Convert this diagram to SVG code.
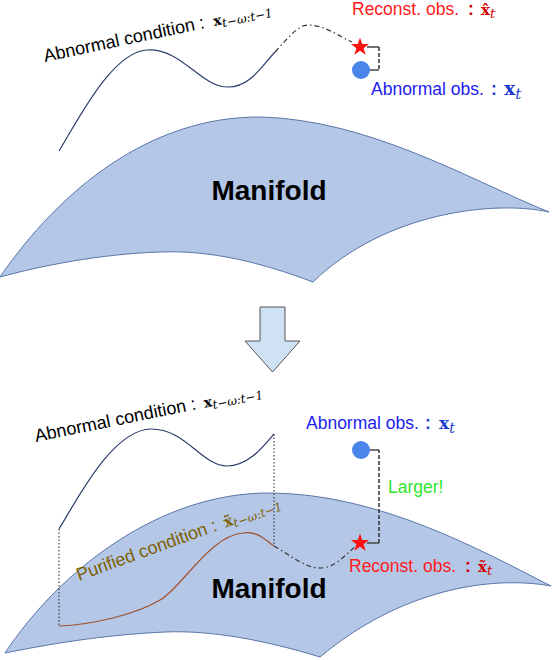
<svg xmlns="http://www.w3.org/2000/svg" width="552" height="660" viewBox="0 0 552 660">
<style>
.lbl{font-family:"Liberation Sans",Arial,sans-serif;font-size:17.5px}
.rot{font-family:"Liberation Sans",Arial,sans-serif;font-size:18px}
.mx{font-family:"DejaVu Serif",serif;font-weight:bold}
.mi{font-family:"DejaVu Serif",serif;font-style:italic}
.man{fill:#b4c7e7;stroke:#5a76aa;stroke-width:1}
.mtxt{font-family:"Liberation Sans",Arial,sans-serif;font-size:28px;font-weight:bold;fill:#000}
.cond{fill:none;stroke:#2b3d6b;stroke-width:1.2}
.dashdot{fill:none;stroke:#333;stroke-width:1.2;stroke-dasharray:5 3 1.5 3}
.dot{fill:none;stroke:#222;stroke-width:1;stroke-dasharray:1.5 2}
.conn{fill:none;stroke:#444;stroke-width:1.5}
.connd{fill:none;stroke:#333;stroke-width:1.5;stroke-dasharray:4 2}
.star{fill:#ff1010}
.obs{fill:#4a86e8}
.red{fill:#ff1a1a}
.redm{fill:#d00000}
.blue{fill:#2020f0}
.bluem{fill:#1a3ccc}
</style>
<defs>
<polygon id="star" points="0,-9.5 2.2,-3 9,-2.9 3.6,1.2 5.6,7.7 0,3.8 -5.6,7.7 -3.6,1.2 -9,-2.9 -2.2,-3"/>
</defs>

<g id="manifold-top">
<path class="man" d="M0,277 C60,190 150,116 261,117 C370,120 470,180 549,212 C495,200 385,212 313,282 C260,262 210,250 160,252 C100,254 40,266 0,277 Z"/>
<text class="mtxt" x="269" y="200" text-anchor="middle">Manifold</text>
</g>

<g id="manifold-bottom">
<path class="man" d="M5,653 C60,570 160,492 271,493 C380,494 480,550 551,586 C490,575 400,590 320,657 C265,640 210,630 165,632 C100,635 45,645 5,653 Z"/>
<text class="mtxt" x="269" y="598" text-anchor="middle">Manifold</text>
</g>

<g id="connectors">
<path class="cond" d="M59,151 C78,120 112,52 147,50 C182,48 200,87 228,87 C250,87 262,66 275,52"/>
<path class="dashdot" d="M275,52 C290,36 298,25 308,25 C325,25 340,37 352,42"/>
<path class="conn" d="M367,47 H379"/>
<path class="connd" d="M379,47 V70"/>
<path class="conn" d="M379,70 H369"/>

<path class="cond" d="M59,529 C78,498 112,431 150,429 C185,428 202,466 227,466 C248,466 262,448 274,434"/>
<path class="dot" d="M59,529 V626"/>
<path class="dot" d="M274,434 V546"/>
<path fill="none" stroke="#a0522d" stroke-width="1.2" d="M59,626 C90,625 135,615 160,600 C180,590 210,535 243,533 C258,531 265,540 274,546"/>
<path class="dashdot" d="M274,546 C290,555 305,568 320,568 C335,568 345,555 356,546"/>
<path class="conn" d="M367,543 H379"/>
<path class="connd" d="M379,543 V450"/>
<path class="conn" d="M379,450 H369"/>
</g>

<g id="arrow">
<polygon points="260,307 285,307 285,341 300,341 272.5,372 245,341 260,341" fill="#cfe2f3" stroke="#555" stroke-width="1"/>
</g>

<g id="top-condition-label">
<text class="rot" transform="translate(45,62) rotate(-12)" fill="#000">Abnormal condition : <tspan class="mx" font-size="14" dx="4">x</tspan><tspan class="mi" font-size="12" dy="3">t−ω:t−1</tspan></text>
</g>

<g id="top-reconst">
<use href="#star" x="360" y="47" class="star"/>
<text class="lbl red" x="352" y="15">Reconst. obs.</text>
<text class="lbl redm" x="468" y="15" font-weight="bold">:</text>
<text class="mx redm" x="481" y="15" font-size="15">x̂<tspan class="mi" font-size="13" dy="3" font-weight="normal">t</tspan></text>
</g>

<g id="top-abnormal">
<circle class="obs" cx="361" cy="70" r="9"/>
<text class="lbl blue" x="371" y="95">Abnormal obs.</text>
<text class="lbl bluem" x="491" y="95" font-weight="bold">:</text>
<text class="mx bluem" x="504" y="95" font-size="19">x<tspan class="mi" font-size="15" dy="4" font-weight="normal">t</tspan></text>
</g>

<g id="bottom-condition-label">
<text class="rot" transform="translate(36,442) rotate(-11.5)" fill="#000">Abnormal condition : <tspan class="mx" font-size="14" dx="3">x</tspan><tspan class="mi" font-size="12" dy="3">t−ω:t−1</tspan></text>
</g>

<g id="purified-label">
<text class="rot" transform="translate(79,581) rotate(-20)" fill="#7f6000">Purified condition : <tspan class="mx" font-size="15" dx="3">x̃</tspan><tspan class="mi" font-size="12" dy="3">t−ω:t−1</tspan></text>
</g>

<g id="bottom-abnormal">
<circle class="obs" cx="361" cy="450" r="9"/>
<text class="lbl blue" x="306" y="429">Abnormal obs.</text>
<text class="lbl bluem" x="425" y="429" font-weight="bold">:</text>
<text class="mx bluem" x="439" y="429" font-size="17">x<tspan class="mi" font-size="14" dy="4" font-weight="normal">t</tspan></text>
</g>

<g id="larger">
<text class="lbl" x="388" y="493" fill="#2ee62e">Larger!</text>
</g>

<g id="bottom-reconst">
<use href="#star" x="360" y="543" class="star"/>
<text class="lbl red" x="349" y="572">Reconst. obs.</text>
<text class="lbl redm" x="465" y="572" font-weight="bold">:</text>
<text class="mx redm" x="478" y="572" font-size="15">x̃<tspan class="mi" font-size="13" dy="3" font-weight="normal">t</tspan></text>
</g>
</svg>
